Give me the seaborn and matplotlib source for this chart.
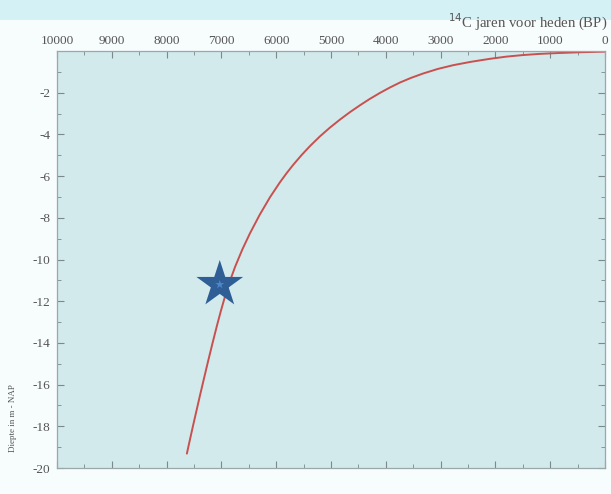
import numpy as np
import pandas as pd
import matplotlib.pyplot as plt
import seaborn as sns
from matplotlib.ticker import MultipleLocator

# curve: 14C years BP vs depth (m - NAP)
years = [0, 450, 880, 1200, 1500, 1800, 2100, 2450, 2770, 3050, 3320, 3540, 3740, 3920, 4100,
         4290, 4470, 4650, 4830, 5020, 5200, 5380, 5540, 5690, 5810, 5930, 6110, 6300, 6480,
         6620, 6750, 6850, 6930, 7010, 7080, 7160, 7245, 7320, 7390, 7460, 7520, 7580, 7630]
depth = [-0.03, -0.06, -0.1, -0.14, -0.195, -0.27, -0.375, -0.52, -0.68, -0.86, -1.08,
         -1.29, -1.51, -1.744, -2.0, -2.295, -2.6, -2.925, -3.276, -3.675, -4.09, -4.55,
         -5.0, -5.46, -5.86, -6.29, -7.0, -7.85, -8.75, -9.53, -10.35, -11.07, -11.73,
         -12.47, -13.16, -13.99, -14.9, -15.73, -16.51, -17.31, -18.0, -18.71, -19.31]

star_year = [7030]
star_depth = [-11.2]

xticks = [10000, 9000, 8000, 7000, 6000, 5000, 4000, 3000, 2000, 1000, 0]
yticks = [-2, -4, -6, -8, -10, -12, -14, -16, -18, -20]

df = pd.DataFrame({'jaar': years, 'diepte': depth})
star = pd.DataFrame({'jaar': star_year, 'diepte': star_depth})

sns.set_theme(style='ticks')
plt.rcParams['font.family'] = ['Liberation Serif', 'DejaVu Serif']
plt.rcParams['axes.unicode_minus'] = False

fig = plt.figure(figsize=(6.11, 4.94), dpi=100, facecolor='#f7fcfd')
# light band across the top
fig.patches.append(plt.Rectangle((0, 1 - 20 / 494), 1, 20 / 494, transform=fig.transFigure,
                                 facecolor='#d4f1f6', edgecolor='none', zorder=0))

ax = fig.add_axes([57 / 611, 1 - 468 / 494, (605 - 57) / 611, (468 - 51) / 494])
ax.set_facecolor('#d2eaec')

sns.lineplot(data=df, x='jaar', y='diepte', ax=ax, color='#c9504f', linewidth=1.4, sort=False)
sns.scatterplot(data=star, x='jaar', y='diepte', ax=ax, marker='*', s=1250, color='#2f5d95',
                edgecolor='none', zorder=5)
sns.scatterplot(data=star, x='jaar', y='diepte', ax=ax, marker='*', s=45, color='#4d88c8',
                edgecolor='none', zorder=6)

ax.set_xlim(10000, 0)
ax.set_ylim(-20, 0)
ax.set_xticks(xticks)
ax.set_yticks(yticks)
ax.xaxis.set_minor_locator(MultipleLocator(500))
ax.yaxis.set_minor_locator(MultipleLocator(1))

ax.tick_params(axis='x', which='both', top=True, bottom=True, labeltop=True, labelbottom=False,
               direction='in', colors='#7a8a8c', labelcolor='#555555', labelsize=9.5, pad=3)
ax.tick_params(axis='y', which='both', left=True, right=True, direction='in',
               colors='#7a8a8c', labelcolor='#555555', labelsize=9.5, pad=5)
ax.tick_params(which='major', length=5, width=0.8)
ax.tick_params(which='minor', length=3, width=0.6)

for s in ax.spines.values():
    s.set_visible(True)
    s.set_color('#9aa8aa')
    s.set_linewidth(0.9)

ax.set_xlabel('')
ax.set_ylabel('')
fig.text(607 / 611, 1 - 22 / 494, '$^{14}$C jaren voor heden (BP)', ha='right', va='center',
         fontsize=10.6, color='#555555')
fig.text(13 / 611, 1 - 418 / 494, 'Diepte in m - NAP', rotation=90, ha='center', va='center',
         fontsize=6.5, color='#555555')

fig.savefig('out.png', dpi=100, facecolor=fig.get_facecolor())
